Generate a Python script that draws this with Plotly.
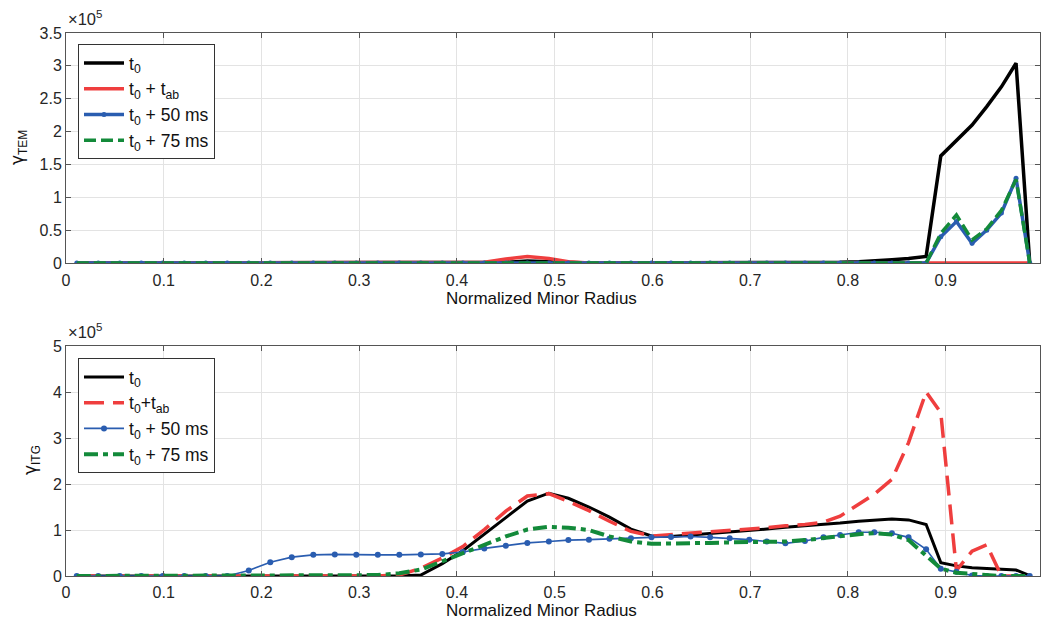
import plotly.graph_objects as go

# normalized minor radius grid
rho = [0.011, 0.033, 0.055, 0.077, 0.099, 0.121, 0.143, 0.165, 0.187, 0.209,
       0.231, 0.253, 0.275, 0.297, 0.319, 0.341, 0.363, 0.385, 0.406, 0.428,
       0.450, 0.472, 0.494, 0.514, 0.535, 0.556, 0.578, 0.599, 0.619, 0.639,
       0.659, 0.679, 0.699, 0.717, 0.736, 0.756, 0.775, 0.792, 0.811, 0.827,
       0.845, 0.862, 0.880, 0.895, 0.911, 0.927, 0.942, 0.957, 0.972, 0.986]

# gamma_TEM  (x 1e5)
tem_t0 = [0]*20 + [0.01, 0.03, 0.02, 0.0] + [0]*12 + \
         [0.0, 0.01, 0.02, 0.03, 0.05, 0.07, 0.10, 1.63, 1.86, 2.10, 2.38, 2.68, 3.04, 0.0]
tem_tab = [0]*19 + [0.01, 0.06, 0.10, 0.07, 0.02] + [0]*26
tem_50 = [0]*43 + [0.40, 0.63, 0.30, 0.50, 0.76, 1.29, 0.0]
tem_75 = [0]*43 + [0.45, 0.73, 0.35, 0.52, 0.80, 1.27, 0.0]

# gamma_ITG  (x 1e5)
itg_t0 = [0]*16 + [0.02, 0.27, 0.55, 0.90, 1.27, 1.63, 1.80, 1.69, 1.50, 1.28,
                   1.02, 0.87, 0.86, 0.89, 0.92, 0.96, 0.99, 1.02, 1.06, 1.09,
                   1.12, 1.15, 1.19, 1.22, 1.24, 1.22, 1.12, 0.29, 0.22, 0.18,
                   0.16, 0.15, 0.13, 0.01]
itg_tab = [0]*15 + [0.02, 0.17, 0.39, 0.64, 1.01, 1.41, 1.74, 1.79, 1.62, 1.42,
                    1.19, 0.97, 0.87, 0.90, 0.93, 0.95, 0.98, 1.01, 1.05, 1.09,
                    1.12, 1.17, 1.30, 1.56, 1.78, 2.10, 2.90, 4.00, 3.55, 0.12,
                    0.54, 0.68, 0.0, 0.0, 0.0]
itg_50 = [0]*8 + [0.12, 0.30, 0.41, 0.46, 0.47, 0.46, 0.46, 0.46, 0.47, 0.48,
                  0.52, 0.60, 0.66, 0.72, 0.75, 0.78, 0.79, 0.81, 0.82, 0.84,
                  0.85, 0.86, 0.84, 0.82, 0.79, 0.75, 0.71, 0.76, 0.84, 0.89,
                  0.95, 0.95, 0.93, 0.84, 0.58, 0.16, 0.09, 0.01, 0, 0, 0, 0]
itg_75 = [0]*14 + [0.02, 0.06, 0.14, 0.32, 0.50, 0.68, 0.86, 1.01, 1.07, 1.05,
                   1.00, 0.86, 0.75, 0.70, 0.70, 0.71, 0.72, 0.73, 0.73, 0.74,
                   0.75, 0.78, 0.83, 0.88, 0.91, 0.93, 0.90, 0.78, 0.43, 0.16,
                   0.07, 0.04, 0.01, 0, 0, 0]

x_ticks = [0, 0.1, 0.2, 0.3, 0.4, 0.5, 0.6, 0.7, 0.8, 0.9, 1.0]
x_ticktext = ["0", "0.1", "0.2", "0.3", "0.4", "0.5", "0.6", "0.7", "0.8", "0.9", "1"]
tem_ticks = [0, 0.5, 1, 1.5, 2, 2.5, 3, 3.5]
tem_ticktext = ["0", "0.5", "1", "1.5", "2", "2.5", "3", "3.5"]
itg_ticks = [0, 1, 2, 3, 4, 5]
itg_ticktext = ["0", "1", "2", "3", "4", "5"]

BLACK = "#000000"
RED = "#EF3E3E"
BLUE = "#2A5DB0"
GREEN = "#138A3A"
FONT = "Liberation Sans, Arial, sans-serif"
GAMMA = '<span style="font-family:DejaVu Sans">γ</span>'

W, H = 1041, 622
def px_x(p):
    return p / W
def px_y(p):
    return 1 - p / H

fig = go.Figure()

# ---- top panel ----
fig.add_trace(go.Scatter(x=rho, y=tem_t0, mode="lines", name="t<sub>0</sub>",
                         line=dict(color=BLACK, width=3.5), xaxis="x", yaxis="y", legend="legend"))
fig.add_trace(go.Scatter(x=rho, y=tem_tab, mode="lines", name="t<sub>0</sub> + t<sub>ab</sub>",
                         line=dict(color=RED, width=3.5), xaxis="x", yaxis="y", legend="legend"))
fig.add_trace(go.Scatter(x=rho, y=tem_50, mode="lines+markers", name="t<sub>0</sub> + 50 ms",
                         line=dict(color=BLUE, width=3.5), marker=dict(size=5, color=BLUE),
                         xaxis="x", yaxis="y", legend="legend"))
fig.add_trace(go.Scatter(x=rho, y=tem_75, mode="lines", name="t<sub>0</sub> + 75 ms",
                         line=dict(color=GREEN, width=3.5, dash="12px,5px"), xaxis="x", yaxis="y", legend="legend"))

# ---- bottom panel ----
fig.add_trace(go.Scatter(x=rho, y=itg_t0, mode="lines", name="t<sub>0</sub>",
                         line=dict(color=BLACK, width=3), xaxis="x2", yaxis="y2", legend="legend2"))
fig.add_trace(go.Scatter(x=rho, y=itg_tab, mode="lines", name="t<sub>0</sub>+t<sub>ab</sub>",
                         line=dict(color=RED, width=3.5, dash="20px,9px"), xaxis="x2", yaxis="y2", legend="legend2"))
fig.add_trace(go.Scatter(x=rho, y=itg_50, mode="lines+markers", name="t<sub>0</sub> + 50 ms",
                         line=dict(color=BLUE, width=1.6), marker=dict(size=6, color=BLUE),
                         xaxis="x2", yaxis="y2", legend="legend2"))
fig.add_trace(go.Scatter(x=rho, y=itg_75, mode="lines", name="t<sub>0</sub> + 75 ms",
                         line=dict(color=GREEN, width=4, dash="14px,5px,5px,5px"), xaxis="x2", yaxis="y2", legend="legend2"))

axis_common = dict(showline=True, linecolor="#555555", linewidth=1, mirror="ticks",
                   ticks="inside", ticklen=5, tickcolor="#555555", showgrid=True,
                   gridcolor="#E3E3E3", gridwidth=1, zeroline=False, automargin=False,
                   tickfont=dict(family=FONT, size=16, color="#262626"))

legend_common = dict(xanchor="left", yanchor="top", bgcolor="white", bordercolor="#333333",
                     borderwidth=1, font=dict(family=FONT, size=17.5, color="#111111"),
                     itemwidth=40, tracegroupgap=0)

x_dom = [px_x(66), px_x(1040)]
fig.update_layout(
    width=W, height=H, margin=dict(l=0, r=0, t=0, b=0, pad=0, autoexpand=False),
    paper_bgcolor="white", plot_bgcolor="white", showlegend=True,
    font=dict(family=FONT, color="#262626"),
    xaxis=dict(domain=x_dom, range=[0, 0.9965], tickvals=x_ticks, ticktext=x_ticktext,
               anchor="y", ticklabelstandoff=3, **axis_common),
    yaxis=dict(domain=[px_y(263), px_y(33)], range=[0, 3.5], tickvals=tem_ticks,
               ticktext=tem_ticktext, anchor="x", **axis_common),
    xaxis2=dict(domain=x_dom, range=[0, 0.9965], tickvals=x_ticks, ticktext=x_ticktext,
                anchor="y2", ticklabelstandoff=2, **axis_common),
    yaxis2=dict(domain=[px_y(576), px_y(346)], range=[0, 5], tickvals=itg_ticks,
                ticktext=itg_ticktext, anchor="x2", **axis_common),
    legend=dict(x=px_x(78), y=px_y(44), **legend_common),
    legend2=dict(x=px_x(78), y=px_y(358), **legend_common),
)

ann = [
    dict(text="Normalized Minor Radius", x=px_x(541), y=px_y(298), xref="paper", yref="paper",
         showarrow=False, font=dict(family=FONT, size=17, color="#111111"), xanchor="center", yanchor="middle"),
    dict(text="Normalized Minor Radius", x=px_x(541), y=px_y(610.5), xref="paper", yref="paper",
         showarrow=False, font=dict(family=FONT, size=17, color="#111111"), xanchor="center", yanchor="middle"),
    dict(text=GAMMA + "<sub>TEM</sub>", x=px_x(18), y=px_y(148), xref="paper", yref="paper", textangle=-90,
         showarrow=False, font=dict(family=FONT, size=17, color="#111111"), xanchor="center", yanchor="middle"),
    dict(text=GAMMA + "<sub>ITG</sub>", x=px_x(31), y=px_y(460), xref="paper", yref="paper", textangle=-90,
         showarrow=False, font=dict(family=FONT, size=17, color="#111111"), xanchor="center", yanchor="middle"),
    dict(text="×10<sup>5</sup>", x=px_x(66), y=px_y(30), xref="paper", yref="paper",
         showarrow=False, font=dict(family=FONT, size=16.5, color="#262626"), xanchor="left", yanchor="bottom"),
    dict(text="×10<sup>5</sup>", x=px_x(66), y=px_y(343), xref="paper", yref="paper",
         showarrow=False, font=dict(family=FONT, size=16.5, color="#262626"), xanchor="left", yanchor="bottom"),
]
fig.update_layout(annotations=ann)

fig.write_html("out.html")
